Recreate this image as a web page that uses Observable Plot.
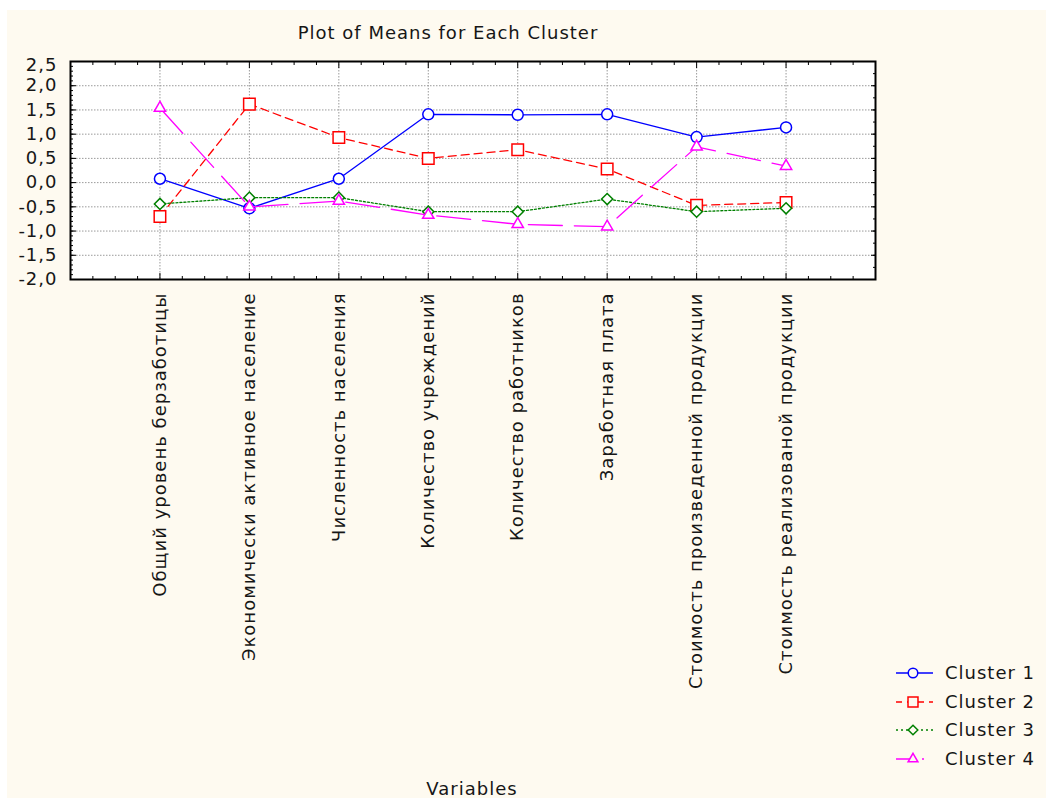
<!DOCTYPE html>
<html><head><meta charset="utf-8">
<script src="https://cdn.jsdelivr.net/npm/d3@7"></script>
<script src="https://cdn.jsdelivr.net/npm/@observablehq/plot@0.6"></script>
<style>
body{margin:0;background:#fff;}
#wrap{position:relative;width:1046px;height:798px;overflow:hidden;font-family:"DejaVu Sans",sans-serif;color:#161616;letter-spacing:1px;}
#panel{position:absolute;left:7px;top:10px;right:0;bottom:0;background:#fefaf0;}
#title{position:absolute;left:198px;width:500px;top:22px;text-align:center;font-size:18px;line-height:22px;}
#chart{position:absolute;left:0;top:50px;}
#xlabel{position:absolute;left:372px;width:200px;top:778px;text-align:center;font-size:18px;line-height:22px;}
.lg{position:absolute;height:24px;}
.lg svg{position:absolute;left:0;top:0;}
.lg span{position:absolute;left:52px;top:1px;font-size:18px;line-height:22px;white-space:nowrap;}
</style></head><body>
<div id="wrap"><div id="panel"></div><div id="title">Plot of Means for Each Cluster</div><div id="chart"></div><div id="xlabel">Variables</div><div id="legend"></div></div>
<script>
const categories = [
  "Общий уровень берзаботицы",
  "Экономически активное население",
  "Численность населения",
  "Количество учреждений",
  "Количество работников",
  "Заработная плата",
  "Стоимость произведенной продукции",
  "Стоимость реализованой продукции"
];
const cluster1 = [0.08, -0.53, 0.08, 1.41, 1.40, 1.41, 0.94, 1.14];
const cluster2 = [-0.70, 1.62, 0.93, 0.50, 0.68, 0.28, -0.47, -0.41];
const cluster3 = [-0.44, -0.31, -0.31, -0.60, -0.60, -0.34, -0.60, -0.53];
const cluster4 = [1.54, -0.50, -0.38, -0.67, -0.86, -0.91, 0.74, 0.34];
const seriesNames = ["Cluster 1", "Cluster 2", "Cluster 3", "Cluster 4"];
const yTicks = [-2.0, -1.5, -1.0, -0.5, 0.0, 0.5, 1.0, 1.5, 2.0, 2.5];

const seriesValues = [cluster1, cluster2, cluster3, cluster4];
const seriesColors = ["#0000ff", "#ff0000", "#008000", "#ff00ff"];
const seriesDash = [null, "8,5", "2,2", "34,12"];
const seriesSymbols = ["circle", "square", "diamond2", "triangle"];
const seriesR = [5.5, 6.5, 5, 4.2];

const pos = c => categories.indexOf(c) + 1;
const fmt = d => d.toFixed(1).replace(".", ",");
const majorX = categories.map(pos);
const minorX = d3.range(1, 36).map(i => i / 4).filter(v => v % 1 !== 0);
const minorY = d3.range(-20, 26).map(i => i / 10);
const quarterY = d3.range(-8, 11).map(i => i / 4);

const seriesMarks = seriesNames.flatMap((s, i) => {
  const rows = categories.map((c, j) => ({series: s, category: c, value: seriesValues[i][j]}));
  return [
    Plot.line(rows, {x: d => pos(d.category), y: "value", stroke: seriesColors[i], strokeWidth: 1.3, strokeDasharray: seriesDash[i] ?? undefined}),
    Plot.dot(rows, {x: d => pos(d.category), y: "value", symbol: seriesSymbols[i], r: seriesR[i], stroke: seriesColors[i], fill: "white", strokeWidth: 1.5})
  ];
});

const chart = Plot.plot({
  width: 900, height: 620,
  marginLeft: 70, marginRight: 25, marginTop: 11, marginBottom: 391,
  style: {fontSize: "18px", fontFamily: "DejaVu Sans, sans-serif", background: "transparent", color: "#161616", overflow: "visible", letterSpacing: "1px"},
  x: {type: "linear", domain: [0, 9]},
  y: {type: "linear", domain: [-2, 2.5]},
  marks: [
    Plot.frame({fill: "white"}),
    Plot.gridX(majorX, {stroke: "#9a9a9a", strokeOpacity: 1, strokeDasharray: "1.5,1.5"}),
    Plot.gridY(yTicks.slice(1, -1), {stroke: "#9a9a9a", strokeOpacity: 1, strokeDasharray: "1.5,1.5"}),
    ...seriesMarks,
    Plot.frame({stroke: "#000", strokeWidth: 2}),
    Plot.axisY(minorY, {anchor: "left", tickSize: -3, fill: "none", label: null, stroke: "#000"}),
    Plot.axisY(yTicks, {anchor: "left", tickSize: -6, fill: "none", label: null, stroke: "#000"}),
    Plot.axisY(quarterY, {anchor: "right", tickSize: -3, fill: "none", label: null, stroke: "#000"}),
    Plot.axisY(yTicks, {anchor: "right", tickSize: -5, fill: "none", label: null, stroke: "#000"}),
    Plot.axisX(minorX, {anchor: "bottom", tickSize: -3, fill: "none", label: null, stroke: "#000"}),
    Plot.axisX(majorX, {anchor: "bottom", tickSize: -6, fill: "none", label: null, stroke: "#000"}),
    Plot.axisX(minorX, {anchor: "top", tickSize: -3, fill: "none", label: null, stroke: "#000"}),
    Plot.axisX(majorX, {anchor: "top", tickSize: -6, fill: "none", label: null, stroke: "#000"}),
    Plot.axisY(yTicks.slice(0, -1), {anchor: "left", tickSize: 0, tickPadding: 13, tickFormat: fmt, label: null, fontSize: 18}),
    Plot.axisY(yTicks.slice(-1), {anchor: "left", tickSize: 0, tickPadding: 13, tickFormat: fmt, label: null, fontSize: 18, dy: 4}),
    Plot.axisX(majorX, {anchor: "bottom", tickSize: 0, tickPadding: 13, tickRotate: -90, tickFormat: i => categories[i - 1], label: null, fontSize: 18})
  ]
});
document.getElementById("chart").append(chart);

// legend
const legend = d3.select("#legend");
seriesNames.forEach((s, i) => {
  const row = legend.append("div").attr("class", "lg")
    .style("left", "893px").style("top", (661 + i * 28.5) + "px");
  const svg = row.append("svg").attr("width", 44).attr("height", 24);
  svg.append("line").attr("x1", 3).attr("x2", 40).attr("y1", 12).attr("y2", 12)
    .attr("stroke", seriesColors[i]).attr("stroke-width", 1.3)
    .attr("stroke-dasharray", i === 0 ? null : i === 1 ? "6,5" : i === 2 ? "2,3" : "14,12,2,12");
  const sym = {circle: d3.symbolCircle, square: d3.symbolSquare, diamond2: d3.symbolDiamond2, triangle: d3.symbolTriangle}[seriesSymbols[i]];
  svg.append("path").attr("transform", "translate(20,12)")
    .attr("d", d3.symbol(sym, Math.PI * seriesR[i] * seriesR[i] * 0.75)())
    .attr("fill", "#fefaf0").attr("stroke", seriesColors[i]).attr("stroke-width", 1.5);
  row.append("span").text(s);
});
</script>
</body></html>
